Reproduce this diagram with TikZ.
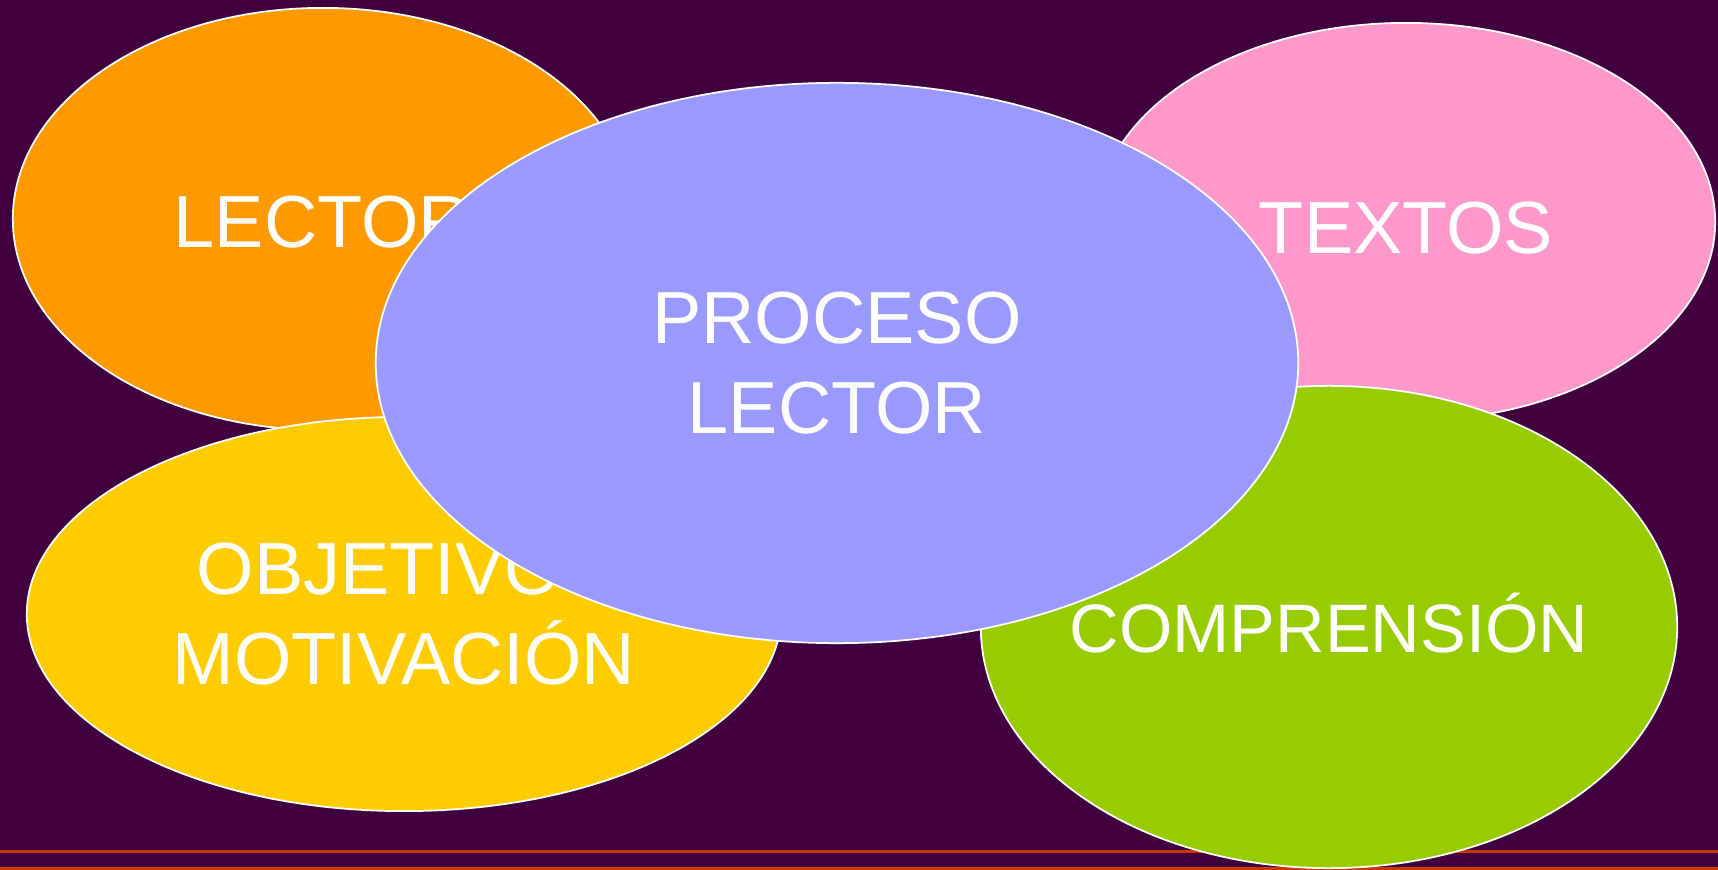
\documentclass[tikz,border=0pt]{standalone}
\usepackage{fontspec}
\setmainfont{Liberation Sans}
\usepackage{xcolor}
\usetikzlibrary{shapes.geometric}
\definecolor{fondo}{HTML}{400040}
\definecolor{naranja}{HTML}{FF9900}
\definecolor{rosa}{HTML}{FF99CC}
\definecolor{amarillo}{HTML}{FFCC00}
\definecolor{verde}{HTML}{99CC00}
\definecolor{lila}{HTML}{9999FF}
\definecolor{raya}{HTML}{CC3300}

\begin{document}
\begin{tikzpicture}[x=0.01cm, y=-0.01cm,
        txt/.style={text=white, align=center, font=\fontsize{21}{25.6}\selectfont},
        blob/.style={ellipse, draw=white, line width=0.5pt, inner sep=0pt, txt}]
        % fondo y rayas inferiores
        \fill[fondo] (0,0) rectangle (1718,870);
        \useasboundingbox (0,0) rectangle (1718,870);
        \draw[raya, line width=0.6pt] (0,851.5) -- (1718,851.5);
        \fill[raya] (0,866.5) rectangle (1718,870);
        % elipses
        \node[blob, fill=naranja, minimum width=6.2cm, minimum height=4.22cm,
              label={[txt, yshift=-0.03cm]center:LECTOR}] (lector) at (323,219) {};
        \node[blob, fill=rosa, minimum width=6.18cm, minimum height=3.98cm,
              label={[txt, yshift=-0.06cm]center:TEXTOS}] (textos) at (1406,222) {};
        \node[blob, fill=amarillo, minimum width=7.54cm, minimum height=3.94cm] (objetivos) at (404,614) {OBJETIVOS\\MOTIVACIÓN};
        \node[blob, fill=verde, minimum width=6.96cm, minimum height=4.82cm,
              label={[txt, font=\fontsize{19.5}{23}\selectfont, yshift=0.04cm]center:COMPRENSIÓN}] (comprension) at (1329,627) {};
        \node[blob, fill=lila, minimum width=9.22cm, minimum height=5.6cm] (proceso) at (837,363) {PROCESO\\LECTOR};
    \end{tikzpicture}
\end{document}
